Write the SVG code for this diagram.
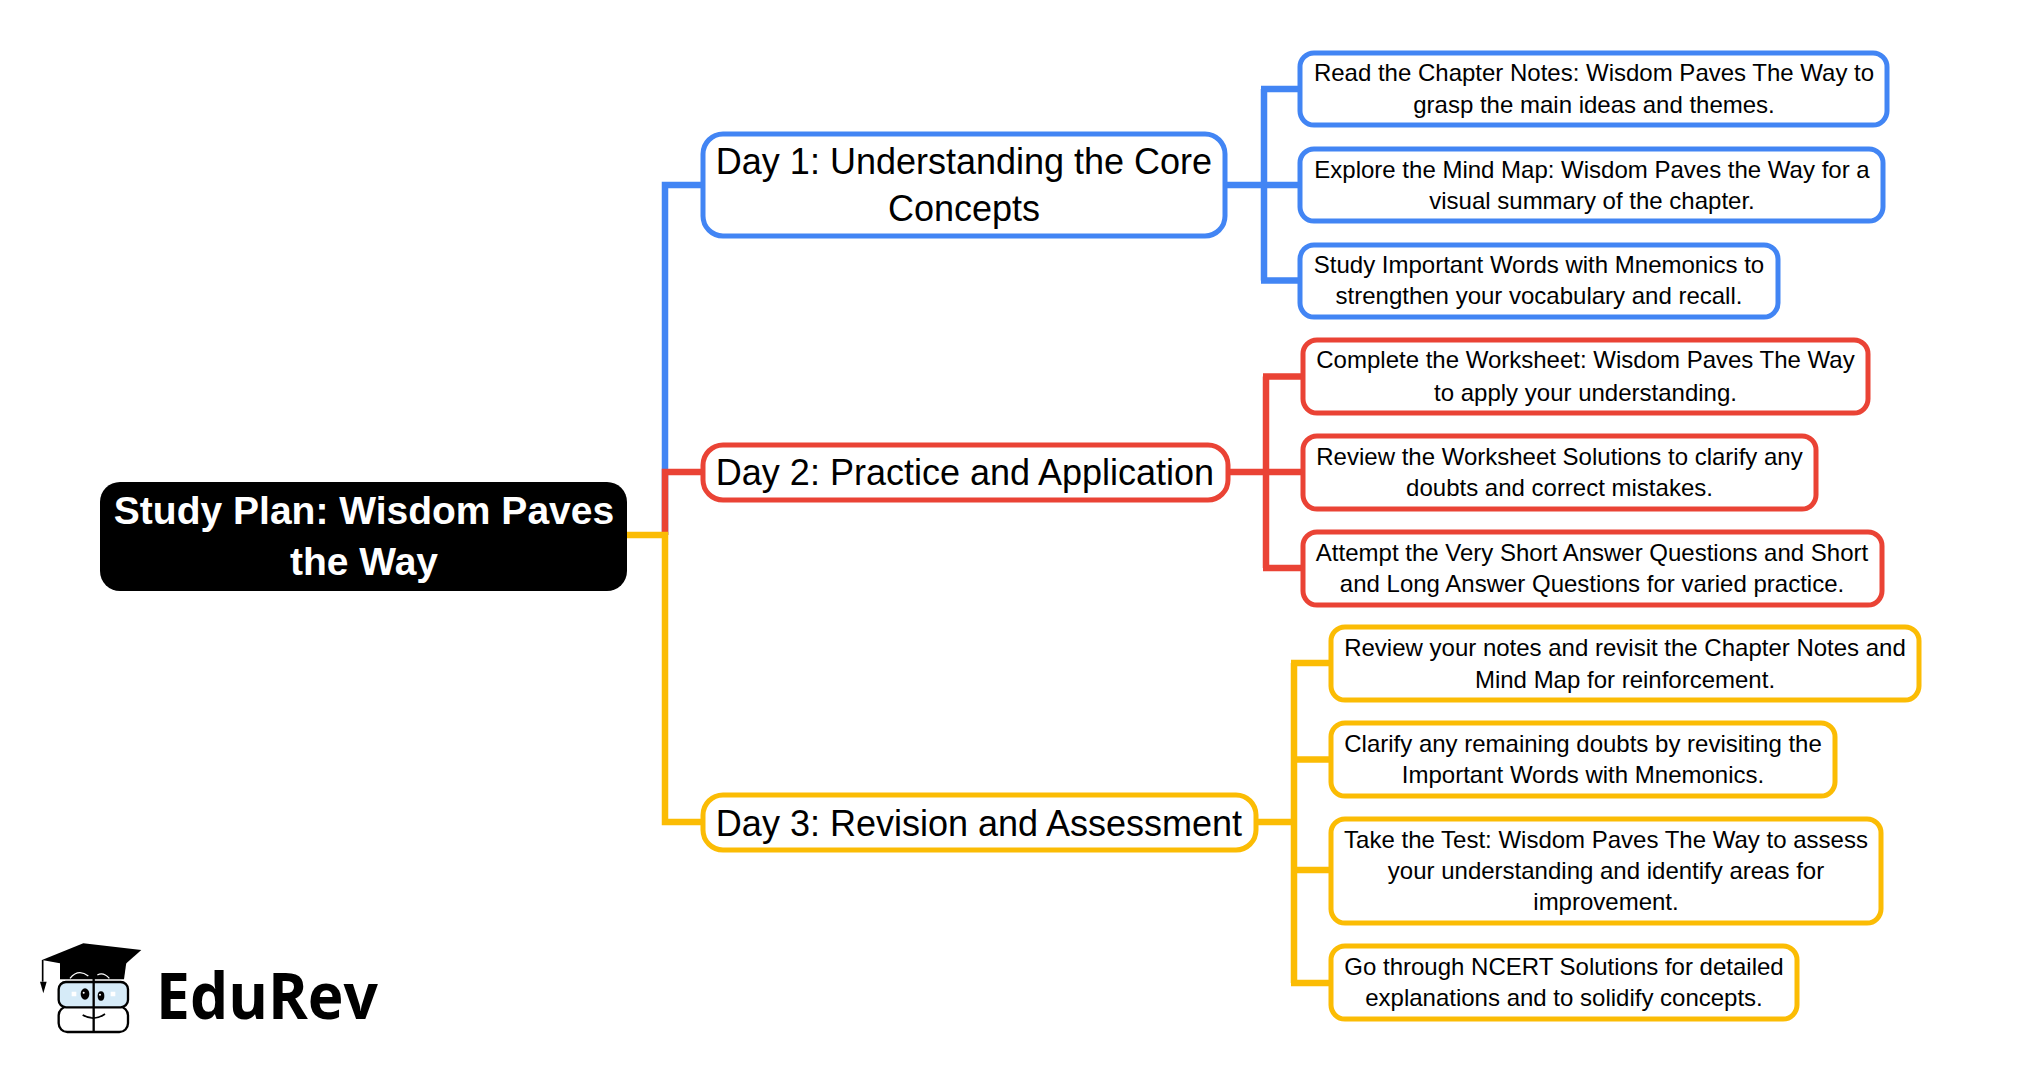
<svg xmlns="http://www.w3.org/2000/svg" width="2022" height="1071" viewBox="0 0 2022 1071">
<style>
text{font-family:"Liberation Sans",Arial,sans-serif;text-anchor:middle;fill:#000}
.r{fill:#fff;stroke-width:5}
.l{fill:none;stroke-width:6.500}
.b{stroke:#4285f4}.d{stroke:#ea4335}.y{stroke:#fbbc04}
.t{font-size:24px}.m{font-size:36px}
.k{stroke:#000;stroke-width:7;stroke-linejoin:round}
</style>
<rect width="2022" height="1071" fill="#fff"/>
<g id="connectors">
<path class="l b" d="M665 535V185H703M1225 185H1264M1264 89V280.500M1261 89H1300M1264 185H1300M1261 280.500H1300"/>
<path class="l d" d="M665 535V472H703M1228 472H1266M1266 376.500V568M1263 376.500H1303M1266 472H1303M1263 568H1303"/>
<path class="l y" d="M627 535H668M665 532V822H703M1256 822H1294M1294 663V983M1291 663H1331M1294 759.500H1331M1294 870H1331M1291 983H1331"/>
</g>
<g id="root"><rect x="100" y="482" width="527" height="109" rx="20" fill="#000"/>
<text x="364" y="523.500" font-size="39" font-weight="700" style="fill:#fff">Study Plan: Wisdom Paves</text>
<text x="364" y="575" font-size="39" font-weight="700" style="fill:#fff">the Way</text></g>
<g id="day1"><rect class="r b" x="703" y="134" width="522" height="102" rx="20"/><text class="m" x="964" y="174">Day 1: Understanding the Core</text><text class="m" x="964" y="221">Concepts</text></g>
<g id="day2"><rect class="r d" x="703" y="445" width="525" height="55" rx="20"/><text class="m" x="965" y="485">Day 2: Practice and Application</text></g>
<g id="day3"><rect class="r y" x="703" y="795" width="553" height="55" rx="20"/><text class="m" x="979" y="836">Day 3: Revision and Assessment</text></g>
<g id="n1"><rect class="r b" x="1300" y="53" width="587" height="72" rx="14"/><text class="t" x="1594" y="81">Read the Chapter Notes: Wisdom Paves The Way to</text><text class="t" x="1594" y="113">grasp the main ideas and themes.</text></g>
<g id="n2"><rect class="r b" x="1300" y="149" width="583" height="72" rx="14"/><text class="t" x="1592" y="178">Explore the Mind Map: Wisdom Paves the Way for a</text><text class="t" x="1592" y="209">visual summary of the chapter.</text></g>
<g id="n3"><rect class="r b" x="1300" y="245" width="478" height="72" rx="14"/><text class="t" x="1539" y="273">Study Important Words with Mnemonics to</text><text class="t" x="1539" y="304">strengthen your vocabulary and recall.</text></g>
<g id="n4"><rect class="r d" x="1303" y="340" width="565" height="73" rx="14"/><text class="t" x="1585.500" y="368">Complete the Worksheet: Wisdom Paves The Way</text><text class="t" x="1585.500" y="401">to apply your understanding.</text></g>
<g id="n5"><rect class="r d" x="1303" y="436" width="513" height="73" rx="14"/><text class="t" x="1559.500" y="465">Review the Worksheet Solutions to clarify any</text><text class="t" x="1559.500" y="496">doubts and correct mistakes.</text></g>
<g id="n6"><rect class="r d" x="1303" y="532" width="579" height="73" rx="14"/><text class="t" x="1592" y="561">Attempt the Very Short Answer Questions and Short</text><text class="t" x="1592" y="592">and Long Answer Questions for varied practice.</text></g>
<g id="n7"><rect class="r y" x="1331" y="627" width="588" height="73" rx="14"/><text class="t" x="1625" y="656">Review your notes and revisit the Chapter Notes and</text><text class="t" x="1625" y="688">Mind Map for reinforcement.</text></g>
<g id="n8"><rect class="r y" x="1331" y="723" width="504" height="73" rx="14"/><text class="t" x="1583" y="752">Clarify any remaining doubts by revisiting the</text><text class="t" x="1583" y="783">Important Words with Mnemonics.</text></g>
<g id="n9"><rect class="r y" x="1331" y="819" width="550" height="104" rx="14"/><text class="t" x="1606" y="848">Take the Test: Wisdom Paves The Way to assess</text><text class="t" x="1606" y="879">your understanding and identify areas for</text><text class="t" x="1606" y="910">improvement.</text></g>
<g id="n10"><rect class="r y" x="1331" y="946" width="466" height="73" rx="14"/><text class="t" x="1564" y="975">Go through NCERT Solutions for detailed</text><text class="t" x="1564" y="1006">explanations and to solidify concepts.</text></g>
<g id="logo"><text x="267" y="1019" font-size="64" font-weight="700" textLength="222" lengthAdjust="spacingAndGlyphs" style="font-family:'Open Sans','Noto Sans',sans-serif">EduRev</text>
<g transform="translate(20 920) scale(.33333)">
<rect class="k" x="116" y="260" width="208" height="76" rx="26" fill="#fff"/>
<rect class="k" x="116" y="186" width="208" height="76" rx="22" fill="#d6ebf8"/>
<path class="k" d="M221 170V338" fill="none"/>
<path d="M120 125V178H312L320 120Z" fill="#000"/>
<path d="M66 120L190 70L364 90L285 160Z" fill="#000"/>
<path d="M150 175Q175 145 205 168M232 165Q250 155 268 175" fill="none" stroke="#fff" stroke-width="4"/>
<path d="M68 120V185" stroke="#000" stroke-width="5"/>
<path d="M60 185H80L70 220Z" fill="#000"/>
<ellipse cx="195" cy="222" rx="13" ry="17" fill="#000"/><ellipse cx="243" cy="228" rx="10" ry="14" fill="#000"/>
<circle cx="191" cy="218" r="3" fill="#fff"/><circle cx="240" cy="224" r="3" fill="#fff"/>
<path d="M155 215h14v14h-14zM272 215h14v14h-14z" fill="#fff"/>
<path d="M188 285Q222 305 255 282" fill="none" stroke="#000" stroke-width="5"/>
</g></g>
</svg>
